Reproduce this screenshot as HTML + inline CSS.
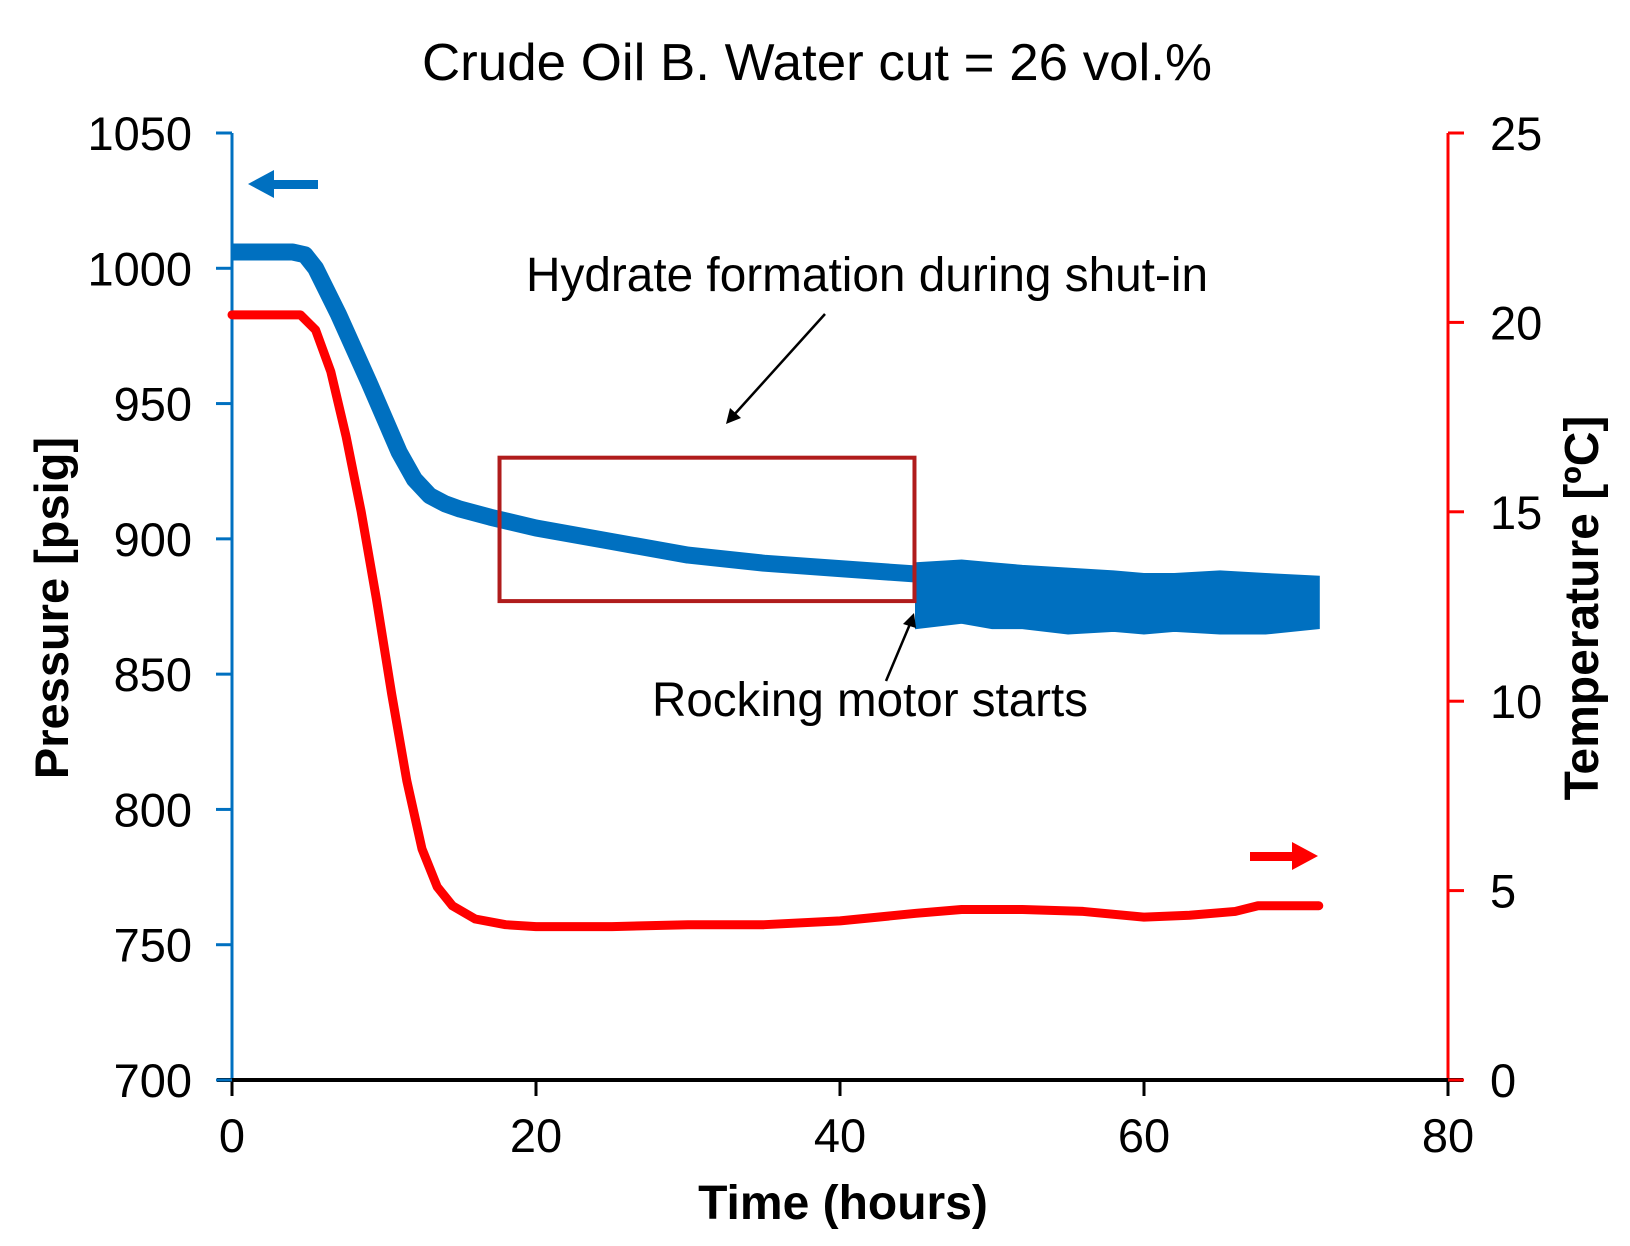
<!DOCTYPE html>
<html><head><meta charset="utf-8"><style>
html,body{margin:0;padding:0;background:#fff}
svg{display:block;font-family:"Liberation Sans",Arial,sans-serif}
</style></head><body>
<svg id="chart" width="1630" height="1246" viewBox="0 0 1630 1246" xmlns="http://www.w3.org/2000/svg">
<text x="817" y="80" font-size="52" text-anchor="middle" textLength="790" lengthAdjust="spacingAndGlyphs">Crude Oil B. Water cut = 26 vol.%</text>
<g id="axes"></g>
<g id="series"></g>
<text x="867" y="291" font-size="48" text-anchor="middle" textLength="682" lengthAdjust="spacingAndGlyphs">Hydrate formation during shut-in</text>
<text x="870" y="716" font-size="48" text-anchor="middle" textLength="436" lengthAdjust="spacingAndGlyphs">Rocking motor starts</text>
<line x1="825" y1="314" x2="733" y2="416" stroke="#000" stroke-width="2.5"/>
<polygon points="726,424 730,408 741,418" fill="#000"/>
<line x1="886" y1="681" x2="910" y2="624" stroke="#000" stroke-width="2.5"/>
<polygon points="914,613 903,624 916,628" fill="#000"/>
<g><rect x="270" y="180" width="48" height="9" fill="#0070c0"/><polygon points="248,184 274,170 274,198" fill="#0070c0"/></g>
<g><rect x="1250" y="852" width="45" height="9" fill="#ff0000"/><polygon points="1318,856 1292,842 1292,870" fill="#ff0000"/></g>
<text transform="translate(68,608) rotate(-90)" font-size="47" font-weight="bold" text-anchor="middle">Pressure [psig]</text>
<text transform="translate(1598,608) rotate(-90)" font-size="48" font-weight="bold" text-anchor="middle">Temperature [ºC]</text>
<text x="843" y="1219" font-size="48" font-weight="bold" text-anchor="middle">Time (hours)</text>
</svg>
<script>
const xTicks=[0,20,40,60,80];
const pTicks=[700,750,800,850,900,950,1000,1050];
const tTicks=[0,5,10,15,20,25];
const pTimes=[0,2,4,4.8,5.5,7,9,11,12,13,14,15,17,20,25,30,35,40,45];
const pValues=[1006,1006,1006,1005,1000,983,958,932,922,916,913,911,908,904,899,894,891,889,887];
const nTimes=[45,48,50,52,55,58,60,62,65,68,71.5];
const nUpper=[891,892,891,890,889,888,887,887,888,887,886];
const nLower=[867,869,867,867,865,866,865,866,865,865,867];
const tTimes=[0,2,4.5,5.5,6.5,7.5,8.5,9.5,10.5,11.5,12.5,13.5,14.5,16,18,20,25,30,35,40,45,48,52,56,60,63,66,67.5,71.5];
const tValues=[20.2,20.2,20.2,19.8,18.7,17.0,15.0,12.7,10.2,7.9,6.1,5.1,4.6,4.25,4.1,4.05,4.05,4.1,4.1,4.2,4.4,4.5,4.5,4.45,4.3,4.35,4.45,4.6,4.6];
const boxT=[17.6,44.9], boxP=[877,930];
const X0=232,X1=1448,Y0=1080,Y1=133;
const sx=t=>X0+(t-0)/80*(X1-X0);
const sp=p=>Y0-(p-700)/350*(Y0-Y1);
const st=c=>Y0-c/25*(Y0-Y1);
const NS="http://www.w3.org/2000/svg";
function mk(tag,attrs,parent){const e=document.createElementNS(NS,tag);for(const k in attrs)e.setAttribute(k,attrs[k]);parent.appendChild(e);return e;}
const ax=document.getElementById('axes'),se=document.getElementById('series');
let e;
e=mk('line',{x1:X0,y1:Y1,x2:X0,y2:Y0,stroke:'#0070c0','stroke-width':3},ax);


e=mk('line',{x1:X1,y1:Y1,x2:X1,y2:Y0,stroke:'#ff0000','stroke-width':3},ax);


e=mk('line',{x1:X0-15,y1:Y0,x2:X1+15,y2:Y0,stroke:'#000','stroke-width':4},ax);


xTicks.forEach(v=>{const x=sx(v);
 e=mk('line',{x1:x,y1:Y0,x2:x,y2:Y0+16,stroke:'#000','stroke-width':3},ax);
 
 
 e=mk('text',{x:x,y:Y0+72,'font-size':47,'text-anchor':'middle'},ax);e.textContent=v;
 
 });
pTicks.forEach(v=>{const y=sp(v);
 e=mk('line',{x1:X0-16,y1:y,x2:X0,y2:y,stroke:'#0070c0','stroke-width':3},ax);
 
 
 e=mk('text',{x:192,y:y+17,'font-size':47,'text-anchor':'end'},ax);e.textContent=v;
 
 });
tTicks.forEach(v=>{const y=st(v);
 e=mk('line',{x1:X1,y1:y,x2:X1+16,y2:y,stroke:'#ff0000','stroke-width':3},ax);
 
 
 e=mk('text',{x:1490,y:y+17,'font-size':47,'text-anchor':'start'},ax);e.textContent=v;
 
 });
e=mk('path',{d:pTimes.map((t,i)=>(i?'L':'M')+sx(t)+','+sp(pValues[i])).join(''),fill:'none',stroke:'#0070c0','stroke-width':17,'stroke-linejoin':'round'},se);


let d=nTimes.map((t,i)=>(i?'L':'M')+sx(t)+','+sp(nUpper[i])).join('');
d+=nTimes.slice().reverse().map((t,j)=>{const i=nTimes.length-1-j;return 'L'+sx(t)+','+sp(nLower[i]);}).join('')+'Z';
e=mk('path',{d:d,fill:'#0070c0',stroke:'#0070c0','stroke-width':2},se);


e=mk('path',{d:tTimes.map((t,i)=>(i?'L':'M')+sx(t)+','+st(tValues[i])).join(''),fill:'none',stroke:'#ff0000','stroke-width':9,'stroke-linejoin':'round','stroke-linecap':'round'},se);


e=mk('rect',{x:sx(boxT[0]),y:sp(boxP[1]),width:sx(boxT[1])-sx(boxT[0]),height:sp(boxP[0])-sp(boxP[1]),fill:'none',stroke:'#b01c1c','stroke-width':4},se);


</script>
</body></html>
